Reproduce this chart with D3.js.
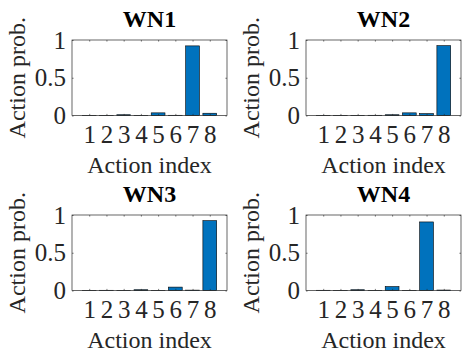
<!DOCTYPE html>
<html>
<head>
<meta charset="utf-8">
<script src="https://cdn.jsdelivr.net/npm/d3@7"></script>
<style>
  body { margin: 0; background: #fff; }
  svg text { font-family: "Liberation Serif", "Times New Roman", Times, serif; }
</style>
</head>
<body>
<div id="chart"></div>
<script>
// action indices and probabilities
var actions = [1, 2, 3, 4, 5, 6, 7, 8];
var titles = ['WN1', 'WN2', 'WN3', 'WN4'];
var wn1 = [0.002, 0.002, 0.01, 0.002, 0.035, 0.003, 0.922, 0.03];
var wn2 = [0.002, 0.002, 0.002, 0.003, 0.01, 0.035, 0.025, 0.925];
var wn3 = [0.002, 0.003, 0.002, 0.01, 0.002, 0.045, 0.005, 0.925];
var wn4 = [0.003, 0.002, 0.01, 0.002, 0.052, 0.002, 0.908, 0.006];
var yTicks = [0, 0.5, 1];
var series = [wn1, wn2, wn3, wn4];

var width = 462, height = 351;
var barColor = '#0072BD';
var axisColor = '#262626';
var serif = '"Liberation Serif", "Times New Roman", Times, serif';

var svg = d3.select('#chart').append('svg')
    .attr('width', width)
    .attr('height', height)
    .attr('font-family', serif);

// panel layout (2x2)
var lefts = [72, 306], tops = [40, 215];
var pw = 155, ph = 75.5;

var x = d3.scaleLinear().domain([0, 9]).range([0, pw]);
var y = d3.scaleLinear().domain([0, 1]).range([ph, 0]);

series.forEach(function (vals, i) {
    var g = svg.append('g')
        .attr('transform', 'translate(' + lefts[i % 2] + ',' + tops[Math.floor(i / 2)] + ')');

    var data = actions.map(function (a, j) { return { a: a, v: vals[j] }; });

    g.selectAll('rect.bar')
        .data(data)
        .enter()
        .append('rect')
        .attr('class', 'bar')
        .attr('x', d => x(d.a - 0.4))
        .attr('width', d => x(d.a + 0.4) - x(d.a - 0.4))
        .attr('y', d => y(d.v))
        .attr('height', d => y(0) - y(d.v))
        .attr('fill', barColor)
        .attr('stroke', '#000')
        .attr('stroke-width', 0.6);

    // axes, ticks inside like matlab
    var xb = g.append('g')
        .attr('transform', 'translate(0,' + ph + ')')
        .call(d3.axisBottom(x).tickValues(actions).tickSizeInner(-1.6).tickSizeOuter(0).tickPadding(10));
    var xt = g.append('g')
        .call(d3.axisTop(x).tickValues(actions).tickSizeInner(-1.6).tickSizeOuter(0).tickFormat(''));
    var yl = g.append('g')
        .call(d3.axisLeft(y).tickValues(yTicks).tickSizeInner(-1.6).tickSizeOuter(0).tickPadding(6)
            .tickFormat(d3.format('')));
    var yr = g.append('g')
        .attr('transform', 'translate(' + pw + ',0)')
        .call(d3.axisRight(y).tickValues(yTicks).tickSizeInner(-1.6).tickSizeOuter(0).tickFormat(''));

    [xb, xt, yl, yr].forEach(function (ax) {
        ax.attr('font-family', serif).attr('font-size', 25);
        ax.select('.domain').remove();
        ax.selectAll('.tick line').attr('stroke', axisColor).attr('stroke-width', 0.6);
        ax.selectAll('.tick text')
            .attr('fill', axisColor)
            .attr('font-family', serif)
            .attr('font-size', 25);
    });

    g.append('rect')
        .attr('width', pw)
        .attr('height', ph)
        .attr('fill', 'none')
        .attr('stroke', axisColor)
        .attr('stroke-width', 0.7);

    g.append('text')
        .attr('x', pw / 2)
        .attr('y', -13.5)
        .attr('text-anchor', 'middle')
        .attr('font-family', serif)
        .attr('font-size', 24)
        .attr('font-weight', 'bold')
        .attr('fill', '#000')
        .text(titles[i]);

    g.append('text')
        .attr('x', pw / 2)
        .attr('y', ph + 57)
        .attr('text-anchor', 'middle')
        .attr('font-family', serif)
        .attr('font-size', 24)
        .attr('fill', axisColor)
        .text('Action index');

    g.append('text')
        .attr('transform', 'translate(-47,' + (ph / 2) + ') rotate(-90)')
        .attr('text-anchor', 'middle')
        .attr('font-family', serif)
        .attr('font-size', 24)
        .attr('fill', axisColor)
        .text('Action prob.');
});
</script>
</body>
</html>
